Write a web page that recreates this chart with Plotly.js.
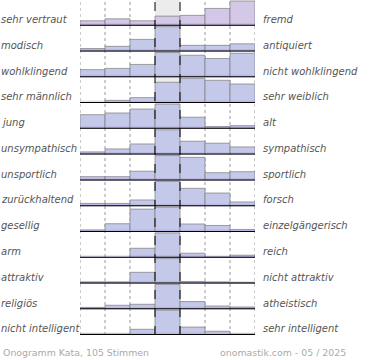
<!DOCTYPE html>
<html><head><meta charset="utf-8">
<script src="https://cdn.plot.ly/plotly-3.0.1.min.js"></script>
<style>html,body{margin:0;padding:0;background:#fff}#chart{width:370px;height:360px}</style>
</head><body><div id="chart"></div>
<script>
// scale positions 1..7 (left adjective -> right adjective)
const scale = [1, 2, 3, 4, 5, 6, 7];
const leftLabels = ["sehr vertraut", "modisch", "wohlklingend", "sehr männlich", "jung", "unsympathisch", "unsportlich", "zurückhaltend", "gesellig", "arm", "attraktiv", "religiös", "nicht intelligent"];
const rightLabels = ["fremd", "antiquiert", "nicht wohlklingend", "sehr weiblich", "alt", "sympathisch", "sportlich", "forsch", "einzelgängerisch", "reich", "nicht attraktiv", "atheistisch", "sehr intelligent"];
// relative bar heights per row (row maximum = 100)
const vertraut     = [20, 28, 20, 39, 42, 70, 100];
const modisch      = [12, 21, 49, 100, 25, 25, 31];
const wohlklingend = [31, 36, 52, 100, 89, 76, 97];
const maennlich    = [0, 11, 22, 84, 100, 92, 77];
const jung         = [57, 64, 80, 100, 47, 9, 13];
const sympathisch  = [11, 23, 43, 100, 54, 46, 31];
const sportlich    = [15, 15, 37, 100, 93, 31, 35];
const forsch       = [11, 11, 25, 100, 72, 53, 17];
const gesellig     = [8, 33, 92, 100, 32, 26, 10];
const reich        = [1, 1, 38, 100, 18, 3, 10];
const attraktiv    = [6, 6, 45, 100, 8, 6, 3];
const religioes    = [7, 16, 20, 100, 31, 13, 9];
const intelligent  = [4, 4, 23, 100, 32, 15, 4];
const rows = [vertraut, modisch, wohlklingend, maennlich, jung, sympathisch, sportlich, forsch, gesellig, reich, attraktiv, religioes, intelligent];
const footerLeft = "Onogramm Kata, 105 Stimmen";
const footerRight = "onomastik.com - 05 / 2025";

const N = rows.length;
const W = 370, H = 360, ML = 80, MR = 115, MT = 0, MB = 25;
const plotW = W - ML - MR;
const hFrac = 1 / N;
const traces = [];
const layout = {
  width: W, height: H,
  margin: {l: ML, r: MR, t: MT, b: MB, pad: 0},
  paper_bgcolor: "#fff", plot_bgcolor: "rgba(0,0,0,0)",
  showlegend: false, bargap: 0,
  font: {family: "DejaVu Sans, sans-serif"},
  xaxis: {range: [0.5, 7.5], showticklabels: false, showgrid: false, zeroline: false, ticks: "", fixedrange: true, anchor: "y" + N},
  shapes: [], annotations: []
};
// middle column background
layout.shapes.push({type: "rect", xref: "x", yref: "paper", x0: 3.5, x1: 4.5, y0: 0, y1: 1, fillcolor: "#ececec", line: {width: 0}, layer: "below"});
// dotted column separators
[0.5, 1.5, 2.5, 5.5, 6.5, 7.5].forEach(v => layout.shapes.push({type: "line", xref: "x", yref: "paper", x0: v, x1: v, y0: 0, y1: 1, line: {color: "#999", width: 1, dash: "dot"}, layer: "below"}));

const labFont = {size: 10, color: "#555", family: "DejaVu Sans, sans-serif", style: "italic"};
rows.forEach((vals, i) => {
  const k = i + 1;
  const ya = k === 1 ? "yaxis" : "yaxis" + k;
  const yref = k === 1 ? "y" : "y" + k;
  layout[ya] = {domain: [1 - (i + 1) * hFrac, 1 - i * hFrac], range: [0, 104], visible: false, fixedrange: true};
  traces.push({
    type: "bar", x: scale, y: vals, xaxis: "x", yaxis: yref, width: 1,
    marker: {color: i === 0 ? "#d3c8e7" : "#c4c9ea", line: {color: "rgba(130,130,130,0.75)", width: 1}},
    hoverinfo: "skip"
  });
  // purple base strip + black baseline
  layout.shapes.push({type: "rect", xref: "x", yref: yref, x0: 0.5, x1: 7.5, y0: 0, y1: 10, fillcolor: "rgba(150,120,200,0.22)", line: {width: 0}, layer: "above"});
  layout.shapes.push({type: "line", xref: "x", yref: yref, x0: 0.5, x1: 7.6, y0: 0, y1: 0, line: {color: "#000", width: 2}, layer: "above"});
  layout.annotations.push({xref: "paper", yref: yref, x: (-1 - ML) / plotW, y: 25, xanchor: "left", yanchor: "middle", text: leftLabels[i], showarrow: false, font: labFont});
  layout.annotations.push({xref: "paper", yref: yref, x: (261 - ML) / plotW, y: 25, xanchor: "left", yanchor: "middle", text: rightLabels[i], showarrow: false, font: labFont});
});
// dashed middle separators
[3.5, 4.5].forEach(v => layout.shapes.push({type: "line", xref: "x", yref: "paper", x0: v, x1: v, y0: 0, y1: 1, line: {color: "#000", width: 1, dash: "dash"}, layer: "above"}));
// footer
layout.annotations.push({xref: "paper", yref: "paper", x: (1 - ML) / plotW, y: -0.052, xanchor: "left", yanchor: "middle", text: footerLeft, showarrow: false, font: {size: 9.4, color: "#aaa"}});
layout.annotations.push({xref: "paper", yref: "paper", x: (348 - ML) / plotW, y: -0.052, xanchor: "right", yanchor: "middle", text: footerRight, showarrow: false, font: {size: 9.4, color: "#aaa"}});

Plotly.newPlot("chart", traces, layout, {displayModeBar: false, staticPlot: true});
</script></body></html>
